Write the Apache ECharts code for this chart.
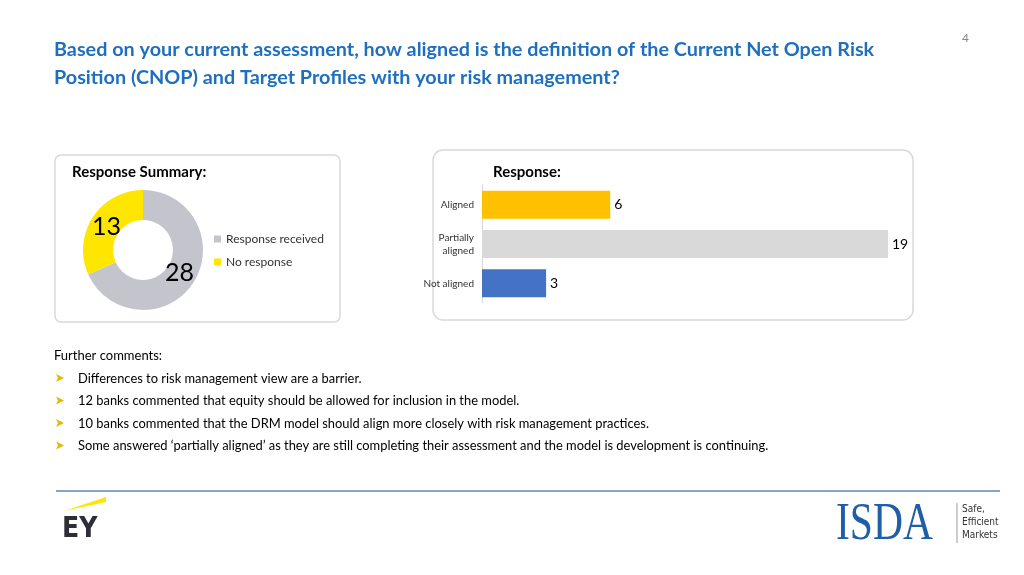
<!DOCTYPE html><html><head><meta charset="utf-8"><script src="https://cdn.jsdelivr.net/npm/echarts@6/dist/echarts.min.js"></script>
<style>html,body{margin:0;padding:0;background:#fff}#c{width:1024px;height:575px}</style></head><body><div id="c"></div><script>
const pieNames=['Response received','No response'];
const pieValues=[28,13];
const barCats=['Not aligned','Partially\naligned','Aligned'];
const barValues=[3,19,6];
const barColors=['#4472C4','#D9D9D9','#FFC000'];
const comments=['Differences to risk management view are a barrier.','12 banks commented that equity should be allowed for inclusion in the model.','10 banks commented that the DRM model should align more closely with risk management practices.','Some answered ‘partially aligned’ as they are still completing their assessment and the model is development is continuing.'];
const F='Lato, "Open Sans", sans-serif';
const g=[
 {type:'rect',shape:{x:55,y:155,width:285,height:167,r:6},style:{fill:'#fff',stroke:'#d9d9d9',lineWidth:1.5},z:-1},
 {type:'rect',shape:{x:433,y:150,width:480,height:170,r:10},style:{fill:'#fff',stroke:'#d9d9d9',lineWidth:1.5},z:-1},
 {type:'text',x:54,y:36,style:{text:'Based on your current assessment, how aligned is the definition of the Current Net Open Risk\nPosition (CNOP) and Target Profiles with your risk management?',font:'bold 19.8px '+F,fill:'#1F6FBF',lineHeight:28}},
 {type:'text',x:962,y:32,style:{text:'4',font:'12px '+F,fill:'#888'}},
 {type:'text',x:72,y:165,style:{text:'Response Summary:',font:'bold 15px '+F,fill:'#000'}},
 {type:'text',x:493,y:165,style:{text:'Response:',font:'bold 15px '+F,fill:'#000'}},
 {type:'text',x:92,y:214,z:100,style:{text:'13',font:'25px '+F,fill:'#000'}},
 {type:'text',x:165,y:260,z:100,style:{text:'28',font:'25px '+F,fill:'#000'}},
 {type:'text',x:54,y:349,style:{text:'Further comments:',font:'13px '+F,fill:'#000'}},
 {type:'line',shape:{x1:56,y1:491,x2:1000,y2:491},style:{stroke:'#5B87BD',lineWidth:1.5}},
 {type:'polygon',shape:{points:[[64,511],[106,497],[106,502]]},style:{fill:'#FFE600'}},
 {type:'text',x:62,y:516,style:{text:'EY',font:'bold 28px "DejaVu Sans Condensed", sans-serif',fill:'#2e2e38'}},
 {type:'text',x:836,y:499,scaleX:0.8,originX:0,style:{text:'ISDA',font:'52px "Liberation Serif", serif',fill:'#1F5FA8'}},
 {type:'line',shape:{x1:957,y1:503,x2:957,y2:543},style:{stroke:'#999',lineWidth:1}},
 {type:'text',x:962,y:503,style:{text:'Safe,\nEfficient\nMarkets',font:'10px "DejaVu Sans Condensed", sans-serif',fill:'#333',lineHeight:13}}
];
comments.forEach((t,i)=>{const y=379+i*22.5;
 g.push({type:'polygon',shape:{points:[[56,y-5],[64,y-1],[56,y+3],[58,y-1]]},style:{fill:'#E6B800'}});
 g.push({type:'text',x:78,y:y-7,style:{text:t,font:'12.9px '+F,fill:'#000'}});});
const ch=echarts.init(document.getElementById('c'));
ch.setOption({animation:false,graphic:g,
 legend:{orient:'vertical',left:209,top:228,itemWidth:7,itemHeight:7,itemGap:11,icon:'rect',textStyle:{fontFamily:F,fontSize:12,color:'#333'},data:pieNames},
 grid:{left:482,right:136,top:185,bottom:272},
 xAxis:{type:'value',min:0,max:19,show:false},
 yAxis:{type:'category',data:barCats,axisTick:{show:false},axisLine:{lineStyle:{color:'#d9d9d9'}},axisLabel:{fontFamily:F,fontSize:10,color:'#333',lineHeight:13}},
 series:[
 {type:'pie',center:[143,250],radius:[30,60],label:{show:false},labelLine:{show:false},silent:true,
  data:pieNames.map((n,i)=>({name:n,value:pieValues[i],itemStyle:{color:['#C4C4CC','#FFE600'][i]}}))},
 {type:'bar',barWidth:28,data:barValues.map((v,i)=>({value:v,itemStyle:{color:barColors[i]}})),
  label:{show:true,position:'right',fontFamily:F,fontSize:14,color:'#000',distance:4}}
 ]});
</script></body></html>
